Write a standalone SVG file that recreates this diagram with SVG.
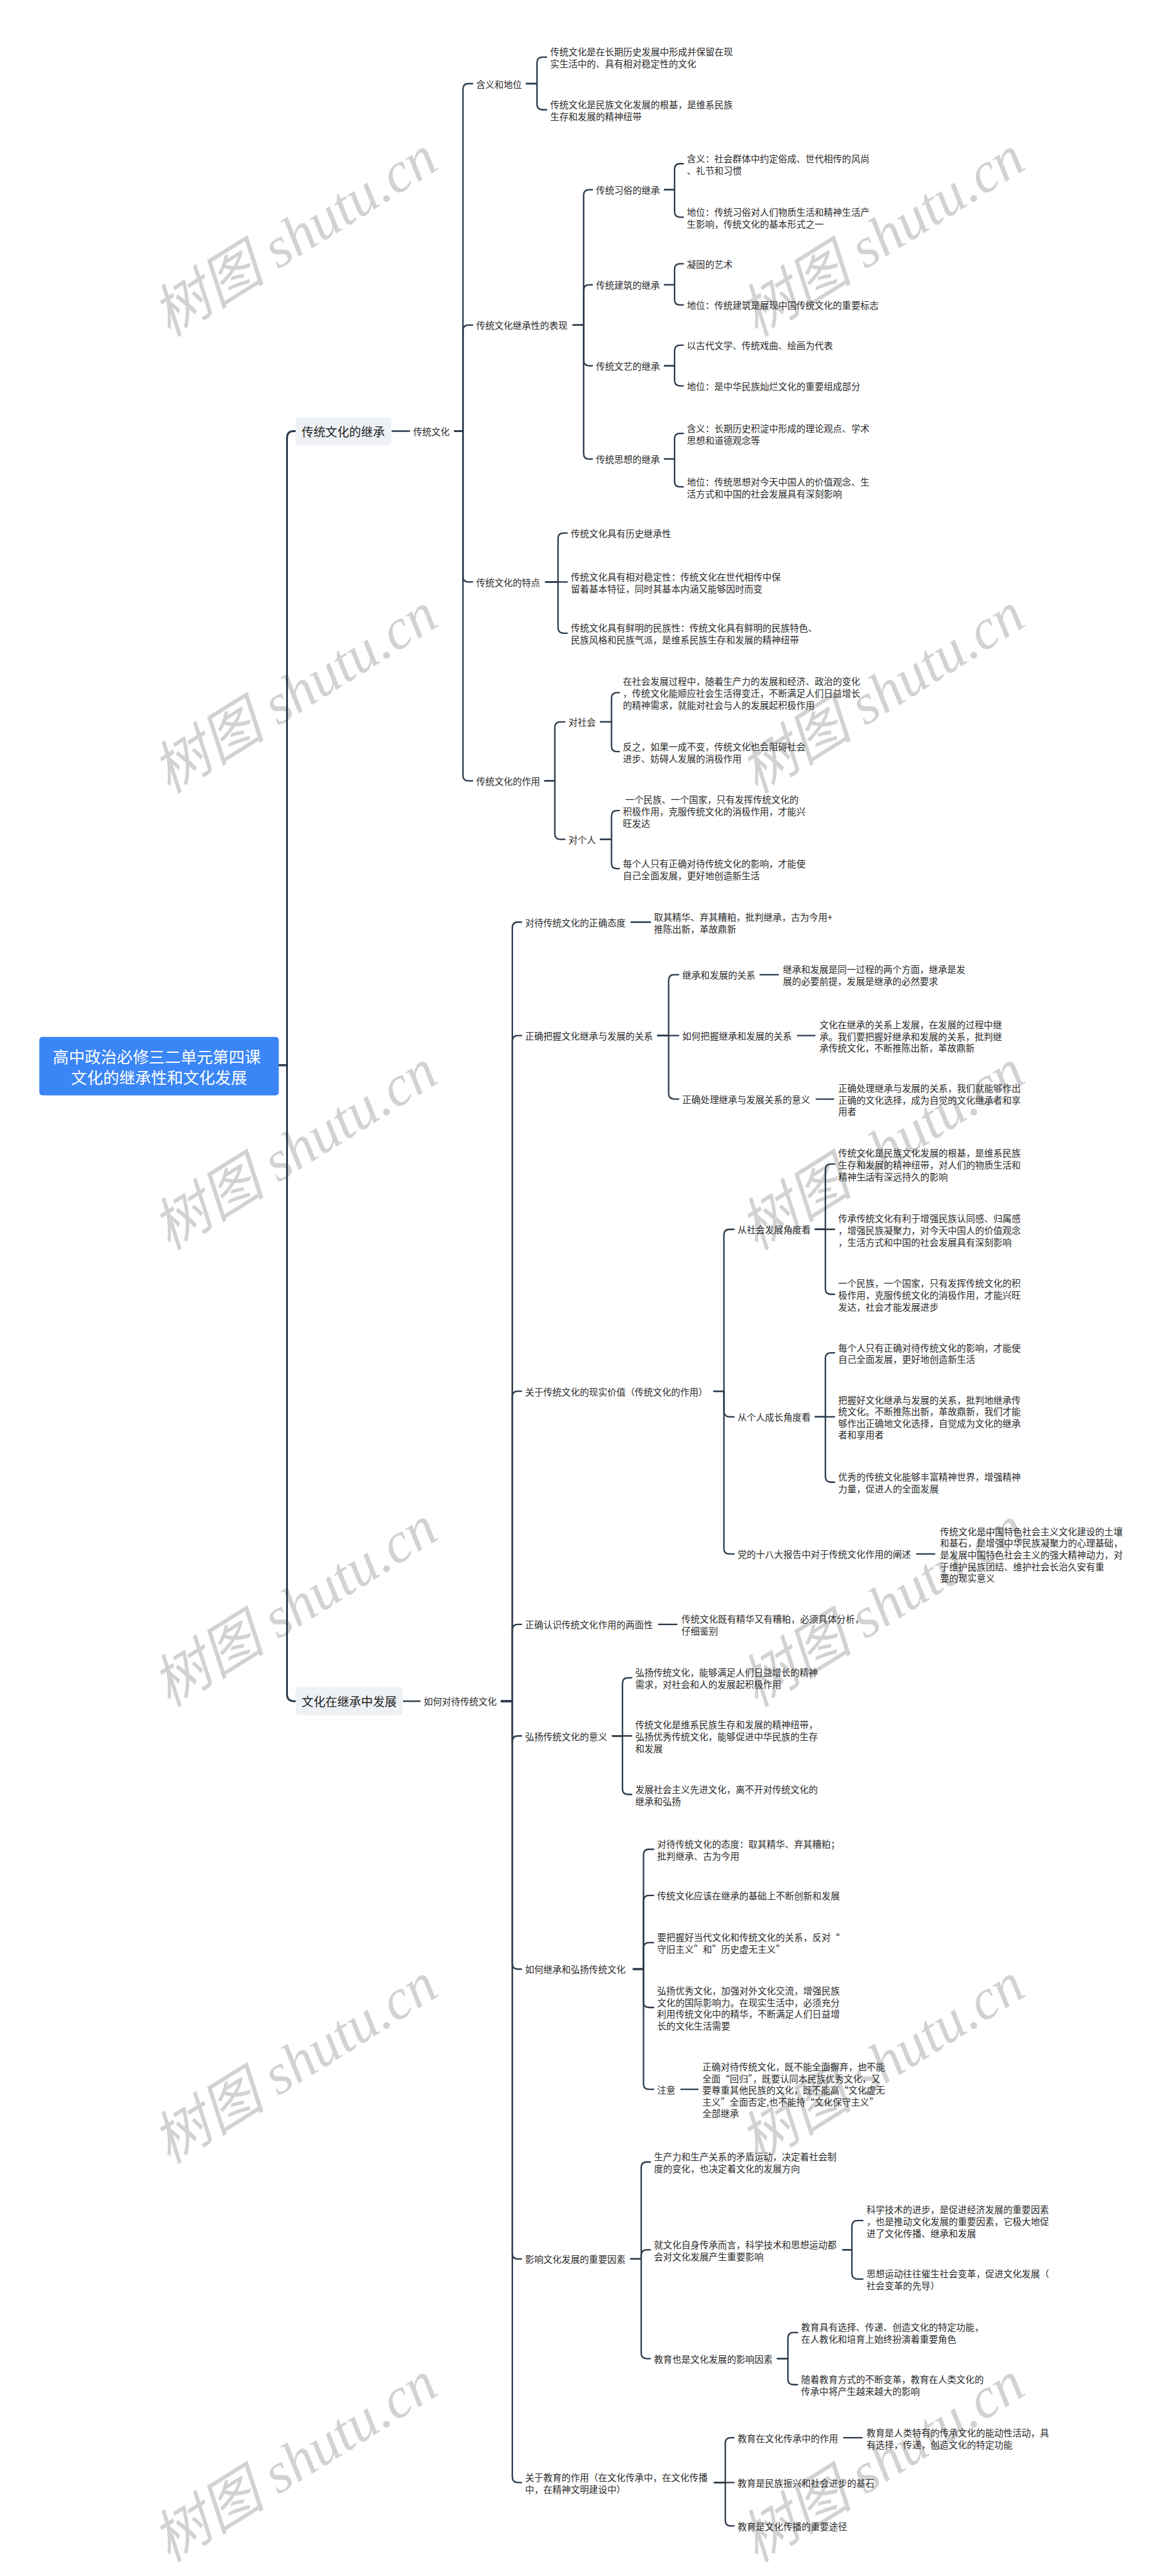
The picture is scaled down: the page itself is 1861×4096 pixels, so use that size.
<svg xmlns="http://www.w3.org/2000/svg" width="1861" height="4096" viewBox="0 0 1861 4096">
<style>
.t{font-family:"Noto Sans CJK SC","Liberation Sans",sans-serif;font-size:20px;fill:#2a2a2a;dominant-baseline:central}
.b{font-size:26px;fill:#222}
.r{font-size:35px;fill:#fff;text-anchor:middle}
.c{fill:none;stroke:#2c3a4b;stroke-width:3.2;stroke-linecap:round;stroke-linejoin:round}
.c0{stroke-width:4}
.wm{font-family:"Liberation Serif","Noto Sans CJK SC",serif;font-style:italic;font-size:125px;fill:#d2d2d2;text-anchor:middle;dominant-baseline:central}
</style>
<rect width="1861" height="4096" fill="#fff"/>
<g transform="scale(0.72695)">
<g id="watermark">
<text class="wm" x="645" y="517" transform="rotate(-32 645 517)">树图 shutu.cn</text>
<text class="wm" x="1930" y="517" transform="rotate(-32 1930 517)">树图 shutu.cn</text>
<text class="wm" x="645" y="1516" transform="rotate(-32 645 1516)">树图 shutu.cn</text>
<text class="wm" x="1930" y="1516" transform="rotate(-32 1930 1516)">树图 shutu.cn</text>
<text class="wm" x="645" y="2515" transform="rotate(-32 645 2515)">树图 shutu.cn</text>
<text class="wm" x="1930" y="2515" transform="rotate(-32 1930 2515)">树图 shutu.cn</text>
<text class="wm" x="645" y="3514" transform="rotate(-32 645 3514)">树图 shutu.cn</text>
<text class="wm" x="1930" y="3514" transform="rotate(-32 1930 3514)">树图 shutu.cn</text>
<text class="wm" x="645" y="4513" transform="rotate(-32 645 4513)">树图 shutu.cn</text>
<text class="wm" x="1930" y="4513" transform="rotate(-32 1930 4513)">树图 shutu.cn</text>
<text class="wm" x="645" y="5385" transform="rotate(-32 645 5385)">树图 shutu.cn</text>
<text class="wm" x="1930" y="5385" transform="rotate(-32 1930 5385)">树图 shutu.cn</text>
</g>
<g id="connectors">
<path class="c c0" d="M610 2330H628V958Q628 943 643 943H647"/>
<path class="c c0" d="M610 2330H628V3706Q628 3721 643 3721H647"/>
<path class="c" d="M858 943H896"/>
<path class="c" d="M883 3721H919"/>
<path class="c" d="M995 943H1013V195Q1013 183 1025 183H1034"/>
<path class="c" d="M995 943H1013V723Q1013 711 1025 711H1034"/>
<path class="c" d="M995 943H1013V1261Q1013 1273 1025 1273H1034"/>
<path class="c" d="M995 943H1013V1696Q1013 1708 1025 1708H1034"/>
<path class="c" d="M1152 183H1175V137Q1175 125 1187 125H1196"/>
<path class="c" d="M1152 183H1175V228Q1175 240 1187 240H1196"/>
<path class="c" d="M1254 711H1277V427Q1277 415 1289 415H1296"/>
<path class="c" d="M1254 711H1277V635Q1277 623 1289 623H1296"/>
<path class="c" d="M1254 711H1277V788Q1277 800 1289 800H1296"/>
<path class="c" d="M1254 711H1277V992Q1277 1004 1289 1004H1296"/>
<path class="c" d="M1454 415H1476V370Q1476 358 1488 358H1495"/>
<path class="c" d="M1454 415H1476V463Q1476 475 1488 475H1495"/>
<path class="c" d="M1454 623H1476V589Q1476 577 1488 577H1495"/>
<path class="c" d="M1454 623H1476V655Q1476 667 1488 667H1495"/>
<path class="c" d="M1454 800H1476V767Q1476 755 1488 755H1495"/>
<path class="c" d="M1454 800H1476V832Q1476 844 1488 844H1495"/>
<path class="c" d="M1454 1004H1476V960Q1476 948 1488 948H1495"/>
<path class="c" d="M1454 1004H1476V1053Q1476 1065 1488 1065H1495"/>
<path class="c" d="M1194 1273H1221V1178Q1221 1166 1233 1166H1241"/>
<path class="c" d="M1194 1273H1241"/>
<path class="c" d="M1194 1273H1221V1373Q1221 1385 1233 1385H1241"/>
<path class="c" d="M1192 1708H1214V1591Q1214 1579 1226 1579H1236"/>
<path class="c" d="M1192 1708H1214V1824Q1214 1836 1226 1836H1236"/>
<path class="c" d="M1314 1579H1338V1527Q1338 1515 1350 1515H1355"/>
<path class="c" d="M1314 1579H1338V1632Q1338 1644 1350 1644H1355"/>
<path class="c" d="M1314 1836H1338V1785Q1338 1773 1350 1773H1355"/>
<path class="c" d="M1314 1836H1338V1888Q1338 1900 1350 1900H1355"/>
<path class="c" d="M1097 3721H1121V2029Q1121 2017 1133 2017H1141"/>
<path class="c" d="M1097 3721H1121V2277Q1121 2265 1133 2265H1141"/>
<path class="c" d="M1097 3721H1121V3055Q1121 3043 1133 3043H1141"/>
<path class="c" d="M1097 3721H1121V3565Q1121 3553 1133 3553H1141"/>
<path class="c" d="M1097 3721H1121V3809Q1121 3797 1133 3797H1141"/>
<path class="c" d="M1097 3721H1121V4295Q1121 4307 1133 4307H1141"/>
<path class="c" d="M1097 3721H1121V4929Q1121 4941 1133 4941H1141"/>
<path class="c" d="M1097 3721H1121V5418Q1121 5430 1133 5430H1141"/>
<path class="c" d="M1381 2017H1423"/>
<path class="c" d="M1439 2265H1463V2144Q1463 2132 1475 2132H1485"/>
<path class="c" d="M1439 2265H1485"/>
<path class="c" d="M1439 2265H1463V2392Q1463 2404 1475 2404H1485"/>
<path class="c" d="M1663 2132H1703"/>
<path class="c" d="M1745 2265H1783"/>
<path class="c" d="M1786 2404H1824"/>
<path class="c" d="M1562 3043H1584V2701Q1584 2689 1596 2689H1606"/>
<path class="c" d="M1562 3043H1584V3087Q1584 3099 1596 3099H1606"/>
<path class="c" d="M1562 3043H1584V3387Q1584 3399 1596 3399H1606"/>
<path class="c" d="M1784 2689H1806V2558Q1806 2546 1818 2546H1826"/>
<path class="c" d="M1784 2689H1826"/>
<path class="c" d="M1784 2689H1806V2819Q1806 2831 1818 2831H1826"/>
<path class="c" d="M1784 3099H1806V2971Q1806 2959 1818 2959H1826"/>
<path class="c" d="M1784 3099H1826"/>
<path class="c" d="M1784 3099H1806V3230Q1806 3242 1818 3242H1826"/>
<path class="c" d="M2006 3399H2045"/>
<path class="c" d="M1441 3553H1481"/>
<path class="c" d="M1340 3797H1362V3682Q1362 3670 1374 3670H1382"/>
<path class="c" d="M1340 3797H1382"/>
<path class="c" d="M1340 3797H1362V3913Q1362 3925 1374 3925H1382"/>
<path class="c" d="M1386 4307H1408V4057Q1408 4045 1420 4045H1430"/>
<path class="c" d="M1386 4307H1408V4158Q1408 4146 1420 4146H1430"/>
<path class="c" d="M1386 4307H1408V4261Q1408 4249 1420 4249H1430"/>
<path class="c" d="M1386 4307H1408V4379Q1408 4391 1420 4391H1430"/>
<path class="c" d="M1386 4307H1408V4558Q1408 4570 1420 4570H1430"/>
<path class="c" d="M1490 4570H1527"/>
<path class="c" d="M1380 4941H1403V4741Q1403 4729 1415 4729H1423"/>
<path class="c" d="M1380 4941H1403V4933Q1403 4921 1415 4921H1423"/>
<path class="c" d="M1380 4941H1403V5147Q1403 5159 1415 5159H1423"/>
<path class="c" d="M1844 4921H1864V4869Q1864 4857 1876 4857H1888"/>
<path class="c" d="M1844 4921H1864V4973Q1864 4985 1876 4985H1888"/>
<path class="c" d="M1701 5159H1724V5114Q1724 5102 1736 5102H1745"/>
<path class="c" d="M1701 5159H1724V5204Q1724 5216 1736 5216H1745"/>
<path class="c" d="M1563 5430H1587V5344Q1587 5332 1599 5332H1606"/>
<path class="c" d="M1563 5430H1606"/>
<path class="c" d="M1563 5430H1587V5513Q1587 5525 1599 5525H1606"/>
<path class="c" d="M1846 5332H1886"/>
</g>
<g id="root">
<rect x="86" y="2268" width="524" height="128" rx="7" fill="#3b86f6"/>
<text class="t r" x="343" y="2309">高中政治必修三二单元第四课</text>
<text class="t r" x="348" y="2355">文化的继承性和文化发展</text>
</g>
<g id="n1">
<rect x="647" y="913" width="209" height="61" rx="9" fill="#eef1f5"/>
<text class="t b" x="660" y="943">传统文化的继承</text>
</g>
<g id="n1a"><text class="t" x="904" y="943">传统文化</text></g>
<g id="n1a1"><text class="t" x="1042" y="183">含义和地位</text></g>
<g id="n1a1a"><text class="t"><tspan x="1204" y="112">传统文化是在长期历史发展中形成并保留在现</tspan><tspan x="1204" y="138">实生活中的、具有相对稳定性的文化</tspan></text></g>
<g id="n1a1b"><text class="t"><tspan x="1204" y="227">传统文化是民族文化发展的根基，是维系民族</tspan><tspan x="1204" y="253">生存和发展的精神纽带</tspan></text></g>
<g id="n1a2"><text class="t" x="1042" y="711">传统文化继承性的表现</text></g>
<g id="n1a2a"><text class="t" x="1304" y="415">传统习俗的继承</text></g>
<g id="n1a2a1"><text class="t"><tspan x="1503" y="345">含义：社会群体中约定俗成、世代相传的风尚</tspan><tspan x="1503" y="371">、礼节和习惯</tspan></text></g>
<g id="n1a2a2"><text class="t"><tspan x="1503" y="462">地位：传统习俗对人们物质生活和精神生活产</tspan><tspan x="1503" y="488">生影响，传统文化的基本形式之一</tspan></text></g>
<g id="n1a2b"><text class="t" x="1304" y="623">传统建筑的继承</text></g>
<g id="n1a2b1"><text class="t" x="1503" y="577">凝固的艺术</text></g>
<g id="n1a2b2"><text class="t" x="1503" y="667">地位：传统建筑是展现中国传统文化的重要标志</text></g>
<g id="n1a2c"><text class="t" x="1304" y="800">传统文艺的继承</text></g>
<g id="n1a2c1"><text class="t" x="1503" y="755">以古代文学、传统戏曲、绘画为代表</text></g>
<g id="n1a2c2"><text class="t" x="1503" y="844">地位：是中华民族灿烂文化的重要组成部分</text></g>
<g id="n1a2d"><text class="t" x="1304" y="1004">传统思想的继承</text></g>
<g id="n1a2d1"><text class="t"><tspan x="1503" y="935">含义：长期历史积淀中形成的理论观点、学术</tspan><tspan x="1503" y="961">思想和道德观念等</tspan></text></g>
<g id="n1a2d2"><text class="t"><tspan x="1503" y="1052">地位：传统思想对今天中国人的价值观念、生</tspan><tspan x="1503" y="1078">活方式和中国的社会发展具有深刻影响</tspan></text></g>
<g id="n1a3"><text class="t" x="1042" y="1273">传统文化的特点</text></g>
<g id="n1a3a"><text class="t" x="1249" y="1166">传统文化具有历史继承性</text></g>
<g id="n1a3b"><text class="t"><tspan x="1249" y="1260">传统文化具有相对稳定性：传统文化在世代相传中保</tspan><tspan x="1249" y="1286">留着基本特征，同时其基本内涵又能够因时而变</tspan></text></g>
<g id="n1a3c"><text class="t"><tspan x="1249" y="1372">传统文化具有鲜明的民族性：传统文化具有鲜明的民族特色、</tspan><tspan x="1249" y="1398">民族风格和民族气派，是维系民族生存和发展的精神纽带</tspan></text></g>
<g id="n1a4"><text class="t" x="1042" y="1708">传统文化的作用</text></g>
<g id="n1a4a"><text class="t" x="1244" y="1579">对社会</text></g>
<g id="n1a4a1"><text class="t"><tspan x="1363" y="1489">在社会发展过程中，随着生产力的发展和经济、政治的变化</tspan><tspan x="1363" y="1515">，传统文化能顺应社会生活得变迁，不断满足人们日益增长</tspan><tspan x="1363" y="1541">的精神需求，就能对社会与人的发展起积极作用</tspan></text></g>
<g id="n1a4a2"><text class="t"><tspan x="1363" y="1631">反之，如果一成不变，传统文化也会阻碍社会</tspan><tspan x="1363" y="1657">进步、妨碍人发展的消极作用</tspan></text></g>
<g id="n1a4b"><text class="t" x="1244" y="1836">对个人</text></g>
<g id="n1a4b1"><text class="t"><tspan x="1368" y="1747">一个民族、一个国家，只有发挥传统文化的</tspan><tspan x="1363" y="1773">积极作用，克服传统文化的消极作用，才能兴</tspan><tspan x="1363" y="1799">旺发达</tspan></text></g>
<g id="n1a4b2"><text class="t"><tspan x="1363" y="1887">每个人只有正确对待传统文化的影响，才能使</tspan><tspan x="1363" y="1913">自己全面发展，更好地创造新生活</tspan></text></g>
<g id="n2">
<rect x="647" y="3690" width="234" height="62" rx="9" fill="#eef1f5"/>
<text class="t b" x="660" y="3721">文化在继承中发展</text>
</g>
<g id="n2a"><text class="t" x="927" y="3721">如何对待传统文化</text></g>
<g id="n2a1"><text class="t" x="1149" y="2017">对待传统文化的正确态度</text></g>
<g id="n2a1a"><text class="t"><tspan x="1431" y="2004">取其精华、弃其糟粕，批判继承，古为今用+</tspan><tspan x="1431" y="2030">推陈出新，革故鼎新</tspan></text></g>
<g id="n2a2"><text class="t" x="1149" y="2265">正确把握文化继承与发展的关系</text></g>
<g id="n2a2a"><text class="t" x="1493" y="2132">继承和发展的关系</text></g>
<g id="n2a2a1"><text class="t"><tspan x="1713" y="2119">继承和发展是同一过程的两个方面，继承是发</tspan><tspan x="1713" y="2145">展的必要前提，发展是继承的必然要求</tspan></text></g>
<g id="n2a2b"><text class="t" x="1493" y="2265">如何把握继承和发展的关系</text></g>
<g id="n2a2b1"><text class="t"><tspan x="1793" y="2239">文化在继承的关系上发展，在发展的过程中继</tspan><tspan x="1793" y="2265">承。我们要把握好继承和发展的关系，批判继</tspan><tspan x="1793" y="2291">承传统文化，不断推陈出新，革故鼎新</tspan></text></g>
<g id="n2a2c"><text class="t" x="1493" y="2404">正确处理继承与发展关系的意义</text></g>
<g id="n2a2c1"><text class="t"><tspan x="1834" y="2378">正确处理继承与发展的关系，我们就能够作出</tspan><tspan x="1834" y="2404">正确的文化选择，成为自觉的文化继承者和享</tspan><tspan x="1834" y="2430">用者</tspan></text></g>
<g id="n2a3"><text class="t" x="1149" y="3043">关于传统文化的现实价值（传统文化的作用）</text></g>
<g id="n2a3a"><text class="t" x="1614" y="2689">从社会发展角度看</text></g>
<g id="n2a3a1"><text class="t"><tspan x="1834" y="2520">传统文化是民族文化发展的根基，是维系民族</tspan><tspan x="1834" y="2546">生存和发展的精神纽带，对人们的物质生活和</tspan><tspan x="1834" y="2572">精神生活有深远持久的影响</tspan></text></g>
<g id="n2a3a2"><text class="t"><tspan x="1834" y="2663">传承传统文化有利于增强民族认同感、归属感</tspan><tspan x="1834" y="2689">，增强民族凝聚力，对今天中国人的价值观念</tspan><tspan x="1834" y="2715">，生活方式和中国的社会发展具有深刻影响</tspan></text></g>
<g id="n2a3a3"><text class="t"><tspan x="1834" y="2805">一个民族，一个国家，只有发挥传统文化的积</tspan><tspan x="1834" y="2831">极作用，克服传统文化的消极作用，才能兴旺</tspan><tspan x="1834" y="2857">发达，社会才能发展进步</tspan></text></g>
<g id="n2a3b"><text class="t" x="1614" y="3099">从个人成长角度看</text></g>
<g id="n2a3b1"><text class="t"><tspan x="1834" y="2946">每个人只有正确对待传统文化的影响，才能使</tspan><tspan x="1834" y="2972">自己全面发展，更好地创造新生活</tspan></text></g>
<g id="n2a3b2"><text class="t"><tspan x="1834" y="3061">把握好文化继承与发展的关系，批判地继承传</tspan><tspan x="1834" y="3086">统文化。不断推陈出新，革故鼎新，我们才能</tspan><tspan x="1834" y="3112">够作出正确地文化选择，自觉成为文化的继承</tspan><tspan x="1834" y="3137">者和享用者</tspan></text></g>
<g id="n2a3b3"><text class="t"><tspan x="1834" y="3229">优秀的传统文化能够丰富精神世界，增强精神</tspan><tspan x="1834" y="3255">力量，促进人的全面发展</tspan></text></g>
<g id="n2a3c"><text class="t" x="1614" y="3399">党的十八大报告中对于传统文化作用的阐述</text></g>
<g id="n2a3c1"><text class="t"><tspan x="2057" y="3348">传统文化是中国特色社会主义文化建设的土壤</tspan><tspan x="2057" y="3373">和基石，是增强中华民族凝聚力的心理基础，</tspan><tspan x="2057" y="3399">是发展中国特色社会主义的强大精神动力，对</tspan><tspan x="2057" y="3425">于维护民族团结、维护社会长治久安有重</tspan><tspan x="2057" y="3450">要的现实意义</tspan></text></g>
<g id="n2a4"><text class="t" x="1149" y="3553">正确认识传统文化作用的两面性</text></g>
<g id="n2a4a"><text class="t"><tspan x="1491" y="3540">传统文化既有精华又有糟粕，必须具体分析，</tspan><tspan x="1491" y="3566">仔细鉴别</tspan></text></g>
<g id="n2a5"><text class="t" x="1149" y="3797">弘扬传统文化的意义</text></g>
<g id="n2a5a"><text class="t"><tspan x="1390" y="3657">弘扬传统文化，能够满足人们日益增长的精神</tspan><tspan x="1390" y="3683">需求，对社会和人的发展起积极作用</tspan></text></g>
<g id="n2a5b"><text class="t"><tspan x="1390" y="3771">传统文化是维系民族生存和发展的精神纽带，</tspan><tspan x="1390" y="3797">弘扬优秀传统文化，能够促进中华民族的生存</tspan><tspan x="1390" y="3823">和发展</tspan></text></g>
<g id="n2a5c"><text class="t"><tspan x="1390" y="3912">发展社会主义先进文化，离不开对传统文化的</tspan><tspan x="1390" y="3938">继承和弘扬</tspan></text></g>
<g id="n2a6"><text class="t" x="1149" y="4307">如何继承和弘扬传统文化</text></g>
<g id="n2a6a"><text class="t"><tspan x="1438" y="4032">对待传统文化的态度：取其精华、弃其糟粕；</tspan><tspan x="1438" y="4058">批判继承、古为今用</tspan></text></g>
<g id="n2a6b"><text class="t" x="1438" y="4146">传统文化应该在继承的基础上不断创新和发展</text></g>
<g id="n2a6c"><text class="t"><tspan x="1438" y="4236">要把握好当代文化和传统文化的关系，反对“</tspan><tspan x="1438" y="4262">守旧主义”和”历史虚无主义”</tspan></text></g>
<g id="n2a6d"><text class="t"><tspan x="1438" y="4353">弘扬优秀文化，加强对外文化交流，增强民族</tspan><tspan x="1438" y="4378">文化的国际影响力。在现实生活中，必须充分</tspan><tspan x="1438" y="4404">利用传统文化中的精华，不断满足人们日益增</tspan><tspan x="1438" y="4429">长的文化生活需要</tspan></text></g>
<g id="n2a6e"><text class="t" x="1438" y="4570">注意</text></g>
<g id="n2a6e1"><text class="t"><tspan x="1537" y="4519">正确对待传统文化，既不能全面摒弃，也不能</tspan><tspan x="1537" y="4545">全面“回归”，既要认同本民族优秀文化，又</tspan><tspan x="1537" y="4570">要尊重其他民族的文化，既不能高“文化虚无</tspan><tspan x="1537" y="4596">主义”全面否定,也不能持“文化保守主义”</tspan><tspan x="1537" y="4621">全部继承</tspan></text></g>
<g id="n2a7"><text class="t" x="1149" y="4941">影响文化发展的重要因素</text></g>
<g id="n2a7a"><text class="t"><tspan x="1431" y="4716">生产力和生产关系的矛盾运动，决定着社会制</tspan><tspan x="1431" y="4742">度的变化，也决定着文化的发展方向</tspan></text></g>
<g id="n2a7b"><text class="t"><tspan x="1431" y="4908">就文化自身传承而言，科学技术和思想运动都</tspan><tspan x="1431" y="4934">会对文化发展产生重要影响</tspan></text></g>
<g id="n2a7b1"><text class="t"><tspan x="1896" y="4831">科学技术的进步，是促进经济发展的重要因素</tspan><tspan x="1896" y="4857">，也是推动文化发展的重要因素，它极大地促</tspan><tspan x="1896" y="4883">进了文化传播、继承和发展</tspan></text></g>
<g id="n2a7b2"><text class="t"><tspan x="1896" y="4972">思想运动往往催生社会变革，促进文化发展（</tspan><tspan x="1896" y="4998">社会变革的先导）</tspan></text></g>
<g id="n2a7c"><text class="t" x="1431" y="5159">教育也是文化发展的影响因素</text></g>
<g id="n2a7c1"><text class="t"><tspan x="1753" y="5089">教育具有选择、传递、创造文化的特定功能，</tspan><tspan x="1753" y="5115">在人教化和培育上始终扮演着重要角色</tspan></text></g>
<g id="n2a7c2"><text class="t"><tspan x="1753" y="5203">随着教育方式的不断变革，教育在人类文化的</tspan><tspan x="1753" y="5229">传承中将产生越来越大的影响</tspan></text></g>
<g id="n2a8"><text class="t"><tspan x="1149" y="5417">关于教育的作用（在文化传承中，在文化传播</tspan><tspan x="1149" y="5443">中，在精神文明建设中）</tspan></text></g>
<g id="n2a8a"><text class="t" x="1614" y="5332">教育在文化传承中的作用</text></g>
<g id="n2a8a1"><text class="t"><tspan x="1896" y="5319">教育是人类特有的传承文化的能动性活动，具</tspan><tspan x="1896" y="5345">有选择，传递，创造文化的特定功能</tspan></text></g>
<g id="n2a8b"><text class="t" x="1614" y="5430">教育是民族振兴和社会进步的基石</text></g>
<g id="n2a8c"><text class="t" x="1614" y="5525">教育是文化传播的重要途径</text></g>
</g>
</svg>
